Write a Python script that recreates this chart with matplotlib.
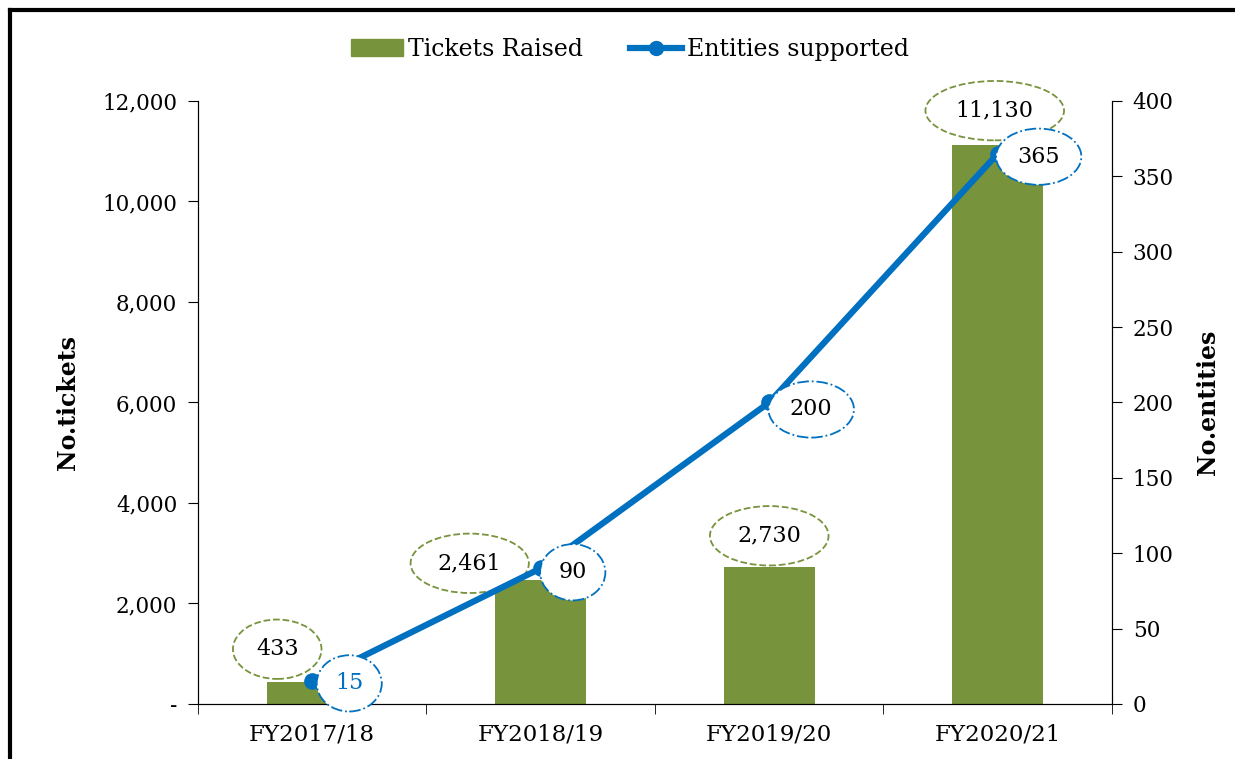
import matplotlib.pyplot as plt
from matplotlib.lines import Line2D
from matplotlib.patches import Patch
from matplotlib.ticker import FuncFormatter, MultipleLocator

# data
years = ['FY2017/18', 'FY2018/19', 'FY2019/20', 'FY2020/21']
tickets = [433, 2461, 2730, 11130]
entities = [15, 90, 200, 365]

# label offsets in pixels (dx, dy)
ticket_offsets = [(-35, 33), (-71, 17), (0, 31), (-3, 34)]
entity_offsets = [(37, -2), (32, -4), (42, -7), (41, -3)]

GREEN = '#77933C'
BLUE = '#0070C0'
plt.rcParams['font.family'] = ['DejaVu Serif']

fig = plt.figure(figsize=(12.35, 7.59), dpi=100)
ax = fig.add_axes([0.1603, 0.0725, 0.9004 - 0.1603, 0.867 - 0.0725])
ax2 = ax.twinx()

x = list(range(len(years)))
ax.bar(x, tickets, width=0.4, color=GREEN, zorder=2)
ax.set_xlim(-0.5, 3.5)
ax.set_ylim(0, 12000)
ax.yaxis.set_major_locator(MultipleLocator(2000))
ax.yaxis.set_major_formatter(FuncFormatter(lambda v, p: '-' if v == 0 else f'{int(v):,}'))
ax.set_xticks(x)
ax.set_xticklabels(years)
ax.set_xticks([i - 0.5 for i in range(len(years) + 1)], minor=True)
ax.tick_params(axis='x', which='major', length=0, pad=14, labelsize=16.5)
ax.tick_params(axis='x', which='minor', length=7, direction='out')
ax.tick_params(axis='y', length=7, labelsize=15.5, pad=8)
ax.set_ylabel('No.tickets', fontsize=17, fontweight='bold', labelpad=16)
ax.spines['top'].set_visible(False)

ax2.plot(x, entities, color=BLUE, lw=4.5, marker='o', ms=11, zorder=3, solid_capstyle='round')
ax2.set_ylim(0, 400)
ax2.yaxis.set_major_locator(MultipleLocator(50))
ax2.tick_params(axis='y', length=7, labelsize=15.5, pad=8)
ax2.set_ylabel('No.entities', fontsize=17, fontweight='bold', labelpad=16)
ax2.spines['top'].set_visible(False)

for i, (v, off) in enumerate(zip(tickets, ticket_offsets)):
    ax.annotate(f'{v:,}', (i, v), xytext=off, textcoords='offset pixels',
                ha='center', va='center', fontsize=16, zorder=5,
                bbox=dict(boxstyle='ellipse,pad=0.45', fc='white', ec=GREEN, ls='--', lw=1.3))

for i, (v, off) in enumerate(zip(entities, entity_offsets)):
    ax2.annotate(f'{v}', (i, v), xytext=off, textcoords='offset pixels',
                 ha='center', va='center', fontsize=16, zorder=5,
                 color=BLUE if i == 0 else 'black',
                 bbox=dict(boxstyle='ellipse,pad=0.4', fc='white', ec=BLUE, ls='-.', lw=1.3))

handles = [Patch(color=GREEN, label='Tickets Raised'),
           Line2D([0], [0], color=BLUE, lw=4.5, marker='o', ms=10, label='Entities supported')]
fig.legend(handles=handles, loc='center', bbox_to_anchor=(0.51, 0.935), ncol=2,
           frameon=False, fontsize=17, handlelength=2.2, handletextpad=0.2, columnspacing=2.0)

# outer border (top and left)
fig.add_artist(Line2D([10 / 1235, 1], [1 - 10 / 759, 1 - 10 / 759], color='black', lw=3, transform=fig.transFigure))
fig.add_artist(Line2D([10 / 1235, 10 / 1235], [0, 1 - 10 / 759], color='black', lw=3, transform=fig.transFigure))

fig.savefig('out.png', dpi=100)
